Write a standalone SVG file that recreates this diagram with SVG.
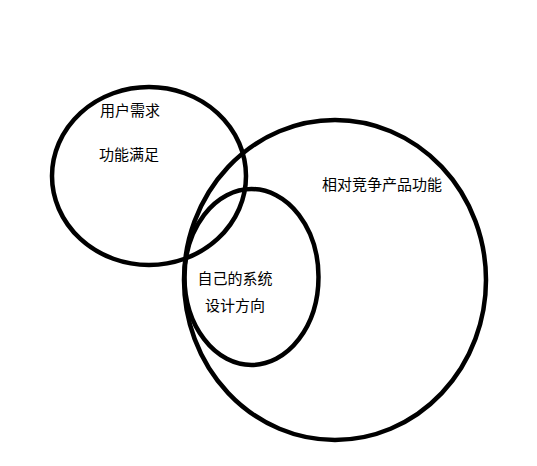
<svg xmlns="http://www.w3.org/2000/svg" width="537" height="466" viewBox="0 0 537 466">
<style>
.c{fill:none;stroke:#000;stroke-width:4.5}
.t{font-family:"Noto Sans CJK SC","Noto Sans",sans-serif;font-size:15px;fill:#000}
</style>
<rect width="537" height="466" fill="#fff"/>
<g id="user-needs">
<ellipse class="c" cx="149" cy="176" rx="97" ry="89"/>
<text class="t" x="130" y="116" text-anchor="middle">用户需求</text>
<text class="t" x="129" y="160" text-anchor="middle">功能满足</text>
</g>
<g id="competitors">
<ellipse class="c" cx="335" cy="280" rx="151" ry="160"/>
<text class="t" x="382" y="190" text-anchor="middle">相对竞争产品功能</text>
</g>
<g id="own-system">
<ellipse class="c" cx="251.5" cy="277" rx="67" ry="88"/>
<text class="t" x="235" y="284" text-anchor="middle">自己的系统</text>
<text class="t" x="235" y="311" text-anchor="middle">设计方向</text>
</g>
<g id="connectors"/>
</svg>
